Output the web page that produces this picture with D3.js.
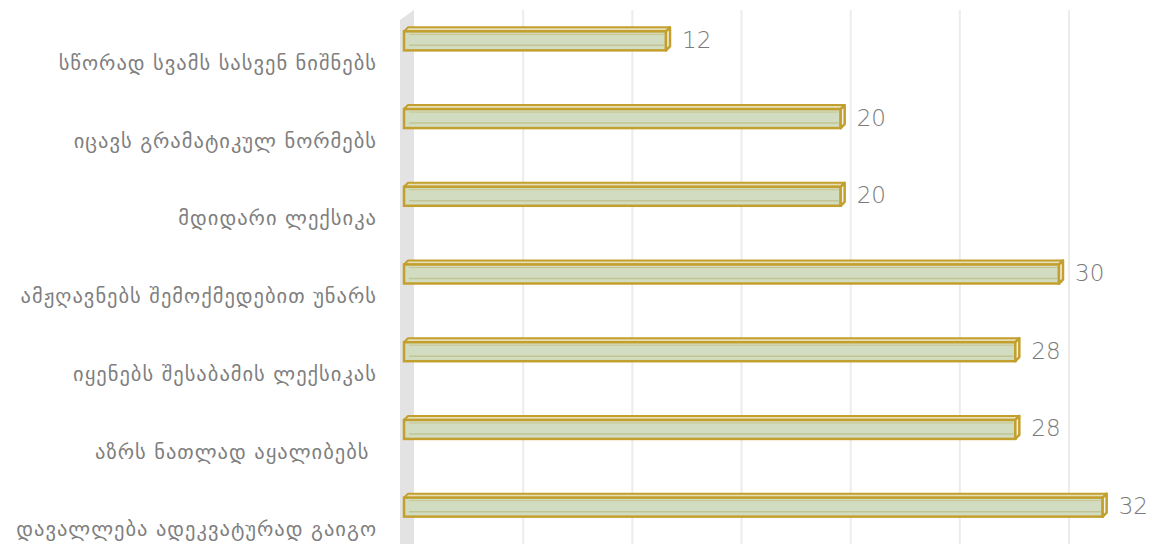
<!DOCTYPE html>
<html>
<head>
<meta charset="utf-8">
<script src="https://cdn.jsdelivr.net/npm/d3@7"></script>
<style>
  body { margin: 0; background: #fff; }
  svg { display: block; }
</style>
</head>
<body>
<svg id="chart" width="1149" height="544"></svg>
<script>
// categories top to bottom, as in the picture
const categories = [
  'სწორად სვამს სასვენ ნიშნებს',
  'იცავს გრამატიკულ ნორმებს',
  'მდიდარი ლექსიკა',
  'ამჟღავნებს შემოქმედებით უნარს',
  'იყენებს შესაბამის ლექსიკას',
  'აზრს ნათლად აყალიბებს ',
  'დავალლება ადეკვატურად გაიგო'
]
const values = [12, 20, 20, 30, 28, 28, 32]
const gridTicks = [0, 5, 10, 15, 20, 25, 30]

const W = 1149, H = 544
const depth = 10   // offset of the back wall from the bars' front face
const svg = d3.select('#chart')

const x = d3.scaleLinear().domain([0, 30]).range([404, 1059])
const y = d3.scaleBand().domain(categories).range([0, H])

// back wall (left side panel)
svg.append('path')
  .attr('d', `M400,20 L${x(0) + depth},10 L${x(0) + depth},${H} L400,${H} Z`)
  .attr('fill', '#e3e3e3')

// vertical gridlines on the back plane
svg.append('g').selectAll('line').data(gridTicks.slice(1)).enter().append('line')
  .attr('x1', d => x(d) + depth).attr('x2', d => x(d) + depth)
  .attr('y1', 10).attr('y2', H)
  .attr('stroke', '#ececec').attr('stroke-width', 2)

// bars: front face, top face and end cap
const bh = 19, dd = 4
const gold = '#c3a02e'
const bars = svg.append('g').selectAll('g').data(values).enter().append('g')
  .attr('transform', (d, i) => `translate(0, ${y(categories[i]) + y.bandwidth() / 2 - bh / 2 + 2})`)

bars.append('path') // top face
  .attr('d', d => `M${x(0)},0 L${x(0) + dd},${-dd} L${x(d) + dd},${-dd} L${x(d)},0 Z`)
  .attr('fill', '#e6dfb8').attr('stroke', gold).attr('stroke-width', 2)
  .attr('stroke-linejoin', 'round')

bars.append('rect') // front face
  .attr('x', x(0)).attr('y', 0)
  .attr('width', d => x(d) - x(0)).attr('height', bh)
  .attr('fill', '#d1dcc0').attr('stroke', gold).attr('stroke-width', 2.5)

bars.append('line') // inner shade line
  .attr('x1', x(0) + 5).attr('x2', d => x(d) - 2)
  .attr('y1', bh - 5).attr('y2', bh - 5)
  .attr('stroke', '#c2c494').attr('stroke-width', 1.5)

bars.append('line') // inner light line near the top
  .attr('x1', x(0) + 5).attr('x2', d => x(d) - 2)
  .attr('y1', 3).attr('y2', 3)
  .attr('stroke', '#c9c58c').attr('stroke-width', 1)

bars.append('path') // end cap
  .attr('d', d => `M${x(d)},0 L${x(d) + dd},${-dd} L${x(d) + dd},${bh - dd} L${x(d)},${bh} Z`)
  .attr('fill', '#f4f2e4').attr('stroke', gold).attr('stroke-width', 2.5)
  .attr('stroke-linejoin', 'round')

// value labels
bars.append('text')
  .attr('x', d => x(d) + dd + 12).attr('y', bh / 2 - 1)
  .attr('dy', '0.35em')
  .attr('font-family', '"DejaVu Sans", sans-serif')
  .attr('font-weight', 200)
  .attr('font-size', 23).attr('fill', '#7a7a7a')
  .text(d => d)

// category labels (sit a bit below each bar, as in 3D layouts)
svg.append('g').selectAll('text').data(categories).enter().append('text')
  .attr('x', 377).attr('y', d => y(d) + y.bandwidth() / 2 + 24)
  .attr('dy', '0.35em')
  .attr('text-anchor', 'end')
  .style('white-space', 'pre')
  .attr('font-family', '"DejaVu Sans", sans-serif')
  .attr('font-size', 20.5).attr('letter-spacing', 1)
  .attr('fill', '#7f7f7f')
  .text(d => d)
</script>
</body>
</html>
